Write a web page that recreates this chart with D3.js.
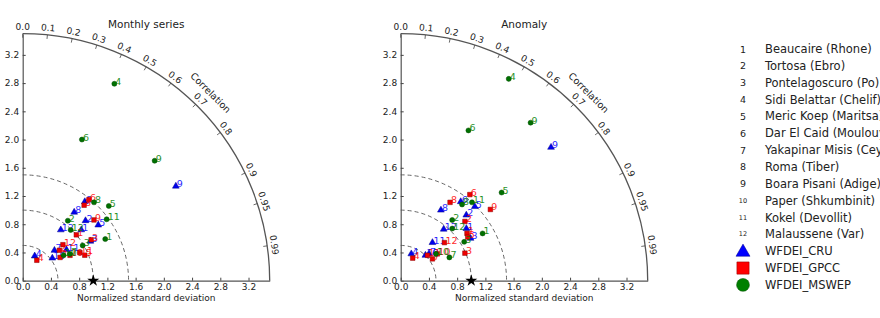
<!DOCTYPE html>
<html><head><meta charset="utf-8">
<script src="https://cdn.jsdelivr.net/npm/d3@7"></script>
<style>
html,body{margin:0;padding:0;background:#fff;}
svg{display:block;font-family:"DejaVu Sans",sans-serif;}
</style></head>
<body><svg id="chart" width="880" height="318"></svg>
<script>
// ---------- data ----------
const stationIds = ["1","2","3","4","5","6","7","8","9","10","11","12"];
const stationNames = ["Beaucaire (Rhone)","Tortosa (Ebro)","Pontelagoscuro (Po)","Sidi Belattar (Chelif)",
  "Meric Koep (Maritsa)","Dar El Caid (Moulouya)","Yakapinar Misis (Ceyhan)","Roma (Tiber)",
  "Boara Pisani (Adige)","Paper (Shkumbinit)","Kokel (Devollit)","Malaussene (Var)"];
const products = ["WFDEI_CRU","WFDEI_GPCC","WFDEI_MSWEP"];
const panelTitles = ["Monthly series","Anomaly"];
const stdTicks = [0.0,0.4,0.8,1.2,1.6,2.0,2.4,2.8,3.2];
const corrTicks = [0.0,0.1,0.2,0.3,0.4,0.5,0.6,0.7,0.8,0.9,0.95,0.99];
const corrTickLabels = ["0.0","0.1","0.2","0.3","0.4","0.5","0.6","0.7","0.8","0.9","0.95","0.99"];
const contourStd = [0.5,1.0,1.5];
const refStd = 1.0;
const stdMax = 3.5;

// Monthly series: normalized std and correlation
const monthlyStdCRU   = [1.099,1.231,1.111,0.389,1.330,1.424,0.622,1.214,2.550,0.528,0.760,0.900];
const monthlyCorrCRU  = [0.755,0.723,0.864,0.437,0.805,0.618,0.723,0.601,0.851,0.795,0.816,0.600];
const monthlyStdGPCC  = [1.000,0.675,1.130,0.352,0.951,1.485,0.624,1.379,1.327,0.761,0.903,0.765];
const monthlyCorrGPCC = [0.760,0.770,0.858,0.568,0.925,0.633,0.849,0.631,0.761,0.881,0.897,0.745];
const monthlyStdMSWEP = [1.310,1.064,0.986,3.078,1.616,2.169,0.770,1.501,2.527,0.683,1.474,0.990];
const monthlyCorrMSWEP= [0.893,0.601,0.862,0.422,0.755,0.387,0.870,0.673,0.740,0.849,0.807,0.687];
// Anomaly
const anomalyStdCRU   = [1.188,1.315,1.158,0.409,1.485,1.406,0.552,1.151,2.848,0.502,0.703,0.951];
const anomalyCorrCRU  = [0.783,0.707,0.855,0.367,0.707,0.605,0.725,0.495,0.748,0.697,0.640,0.641];
const anomalyStdGPCC  = [1.154,1.238,0.990,0.362,1.134,1.565,0.546,1.312,1.623,0.644,0.523,0.822];
const anomalyCorrGPCC = [0.814,0.735,0.919,0.469,0.838,0.626,0.824,0.533,0.783,0.807,0.726,0.754];
const anomalyStdMSWEP = [1.340,1.128,1.055,3.244,1.899,2.336,0.765,1.387,2.899,0.628,1.501,1.039];
const anomalyCorrMSWEP= [0.866,0.647,0.853,0.472,0.753,0.411,0.902,0.627,0.635,0.796,0.673,0.703];

// ---------- styling ----------
const fillCol  = ["#0000ee","#ee0000","#007000"];
const edgeCol  = ["#00008b","#8b0000","#004d00"];
const textCol  = ["#0000ff","#ff0000","#008000"];
const symTypes = [d3.symbolTriangle, d3.symbolSquare, d3.symbolCircle];
const symSizes = [20, 21, 20];
const legSizes = [85, 150, 130];
const axisCol = "#444";

const svg = d3.select("#chart");
const R = 247;
const rScale = d3.scaleLinear().domain([0, stdMax]).range([0, R]);

const panels = [
  {title: panelTitles[0], ox: 22.7, oy: 280.7,
   series: [[monthlyStdCRU, monthlyCorrCRU],[monthlyStdGPCC, monthlyCorrGPCC],[monthlyStdMSWEP, monthlyCorrMSWEP]]},
  {title: panelTitles[1], ox: 400.7, oy: 280.7,
   series: [[anomalyStdCRU, anomalyCorrCRU],[anomalyStdGPCC, anomalyCorrGPCC],[anomalyStdMSWEP, anomalyCorrMSWEP]]}
];

function polar(std, corr) {
  const t = Math.acos(corr), r = rScale(std);
  return [r * Math.cos(t), -r * Math.sin(t)];
}

panels.forEach(p => {
  const g = svg.append("g").attr("transform", `translate(${p.ox},${p.oy})`);

  // std dev contours (dashed)
  contourStd.forEach(s => {
    const path = d3.path();
    path.arc(0, 0, rScale(s), -Math.PI/2, 0);
    g.append("path").attr("d", path.toString()).attr("fill","none")
      .attr("stroke","#555").attr("stroke-width",0.9).attr("stroke-dasharray","4,3");
  });

  // outer arc
  const arcP = d3.path();
  arcP.arc(0, 0, R, -Math.PI/2, 0);
  g.append("path").attr("d", arcP.toString()).attr("fill","none")
    .attr("stroke", "#555").attr("stroke-width", 1.3);

  // correlation ticks and labels
  corrTicks.forEach((c, i) => {
    const t = Math.acos(c);
    const cx = Math.cos(t), sy = Math.sin(t);
    g.append("line").attr("x1", (R-4)*cx).attr("y1", -(R-4)*sy)
      .attr("x2", R*cx).attr("y2", -R*sy).attr("stroke", axisCol).attr("stroke-width", 0.8);
    const lr = R + 7;
    g.append("text").attr("transform", `translate(${lr*cx},${-lr*sy}) rotate(${90 - t*180/Math.PI})`)
      .attr("text-anchor","middle").attr("dominant-baseline","central")
      .attr("font-size", 9).attr("fill","#222").text(corrTickLabels[i]);
  });
  {
    const t = Math.PI/4, lr = R + 19;
    g.append("text").attr("transform", `translate(${lr*Math.cos(t)},${-lr*Math.sin(t)}) rotate(45)`)
      .attr("text-anchor","middle").attr("dominant-baseline","central")
      .attr("font-size", 9.5).attr("fill","#222").text("Correlation");
  }

  // left axis
  const yScale = d3.scaleLinear().domain([0, stdMax]).range([0, -R]);
  const yAxis = g.append("g").call(d3.axisLeft(yScale).tickValues(stdTicks)
      .tickFormat(d3.format(".1f")).tickSize(-3).tickSizeOuter(0).tickPadding(3.5));
  // bottom axis
  const xAxis = g.append("g").call(d3.axisBottom(rScale).tickValues(stdTicks)
      .tickFormat(d3.format(".1f")).tickSize(-3).tickSizeOuter(0).tickPadding(2.5));
  [yAxis, xAxis].forEach(a => {
    a.select(".domain").attr("stroke", "#555").attr("stroke-width", 1.2);
    a.selectAll(".tick line").attr("stroke", axisCol);
    a.selectAll(".tick text").attr("fill","#222").attr("font-size", 9)
      .attr("font-family","DejaVu Sans, sans-serif");
  });

  // axis title
  g.append("text").attr("x", R/2).attr("y", 20.5).attr("text-anchor","middle")
    .attr("font-size", 9).attr("fill","#222").text("Normalized standard deviation");
  // panel title
  g.append("text").attr("x", R/2).attr("y", -252.5).attr("text-anchor","middle")
    .attr("font-size", 10.5).attr("fill","#222").text(p.title);

  // points
  p.series.forEach((sr, k) => {
    const [stds, corrs] = sr;
    stds.forEach((s, i) => {
      const [x, y] = polar(s, corrs[i]);
      g.append("path").attr("d", d3.symbol().type(symTypes[k]).size(symSizes[k])())
        .attr("transform", `translate(${x},${y})`)
        .attr("fill", fillCol[k]).attr("stroke", edgeCol[k]).attr("stroke-width", 0.5);
      g.append("text").attr("x", x + 1).attr("y", y + 1)
        .attr("font-size", 9.5).attr("fill", textCol[k]).attr("opacity", 0.85)
        .text(stationIds[i]);
    });
  });

  // reference star
  const [sx, sy] = polar(refStd, 1.0);
  g.append("path").attr("d", d3.symbol().type(d3.symbolStar).size(45)())
    .attr("transform", `translate(${sx},${sy})`).attr("fill","#000");
});

// ---------- legend ----------
const leg = svg.append("g");
const legX = 743, nameX = 765, legY0 = 49, legDy = 16.85;
stationIds.forEach((id, i) => {
  const y = legY0 + legDy * i;
  leg.append("text").attr("x", legX).attr("y", y).attr("text-anchor","middle")
    .attr("dominant-baseline","central").attr("font-size", id.length > 1 ? 6.5 : 9.5)
    .attr("fill","#222").text(id);
  leg.append("text").attr("x", nameX).attr("y", y).attr("dominant-baseline","central")
    .attr("font-size", 11.5).attr("fill","#222").text(stationNames[i]);
});
products.forEach((name, k) => {
  const y = legY0 + legDy * (stationIds.length + k);
  leg.append("path").attr("d", d3.symbol().type(symTypes[k]).size(legSizes[k])())
    .attr("transform", `translate(${legX},${y + (k === 0 ? 1 : 0)})`)
    .attr("fill", textCol[k]).attr("stroke", edgeCol[k]).attr("stroke-width", 0.5);
  leg.append("text").attr("x", nameX).attr("y", y).attr("dominant-baseline","central")
    .attr("font-size", 11.5).attr("fill","#222").text(name);
});
</script>
</body></html>
